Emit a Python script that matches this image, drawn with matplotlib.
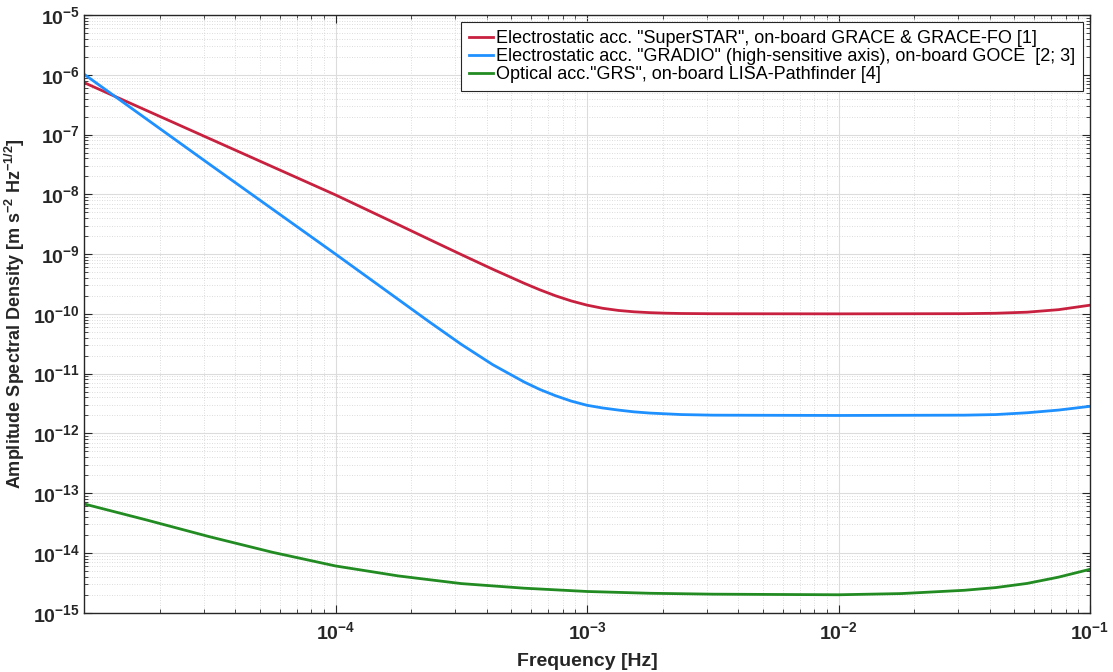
import numpy as np
import matplotlib
matplotlib.use("Agg")
import matplotlib.pyplot as plt
from matplotlib.ticker import LogLocator, FixedLocator, FuncFormatter, NullFormatter

FONT = 'Liberation Sans'
plt.rcParams['font.family'] = [FONT, 'DejaVu Sans']
plt.rcParams['mathtext.fontset'] = 'custom'
plt.rcParams['mathtext.rm'] = FONT + ':bold'
plt.rcParams['mathtext.bf'] = FONT + ':bold'
plt.rcParams['mathtext.it'] = FONT + ':bold'

# log10(frequency [Hz]) and log10(ASD) values
red_logf = [-5.0, -4.75, -4.5, -4.25, -4.0, -3.75, -3.625, -3.5, -3.375, -3.25, -3.1875,
            -3.125, -3.0625, -3.0, -2.9375, -2.875, -2.8125, -2.75, -2.6875, -2.625, -2.5,
            -2.0, -1.5, -1.375, -1.25, -1.125, -1.0]
red_logv = [-6.13, -6.60, -7.07, -7.54, -8.01, -8.508, -8.759, -9.008, -9.253, -9.488, -9.598,
            -9.698, -9.784, -9.854, -9.907, -9.943, -9.966, -9.980, -9.989, -9.994, -9.998,
            -10.0, -9.997, -9.99, -9.972, -9.93, -9.855]

blue_logf = [-5.0, -4.75, -4.5, -4.25, -4.0, -3.875, -3.75, -3.625, -3.5, -3.375,
             -3.25, -3.1875, -3.125, -3.0625, -3.0, -2.9375, -2.875, -2.8125, -2.75, -2.625,
             -2.5, -2.0, -1.5, -1.375, -1.25, -1.125, -1.0]
blue_logv = [-5.99, -6.745, -7.50, -8.25, -9.00, -9.38, -9.76, -10.14, -10.51, -10.85,
             -11.14, -11.265, -11.37, -11.46, -11.53, -11.575, -11.61, -11.64, -11.66, -11.685,
             -11.695, -11.70, -11.695, -11.685, -11.655, -11.61, -11.547]

green_logf = [-5.0, -4.75, -4.5, -4.25, -4.0, -3.75, -3.5, -3.25, -3.0, -2.75,
              -2.5, -2.0, -1.75, -1.5, -1.375, -1.25, -1.125, -1.0]
green_logv = [-13.18, -13.45, -13.73, -13.99, -14.218, -14.385, -14.513, -14.59, -14.645, -14.675,
              -14.69, -14.70, -14.68, -14.625, -14.58, -14.51, -14.405, -14.274]

labels = ['Electrostatic acc. "SuperSTAR", on-board GRACE & GRACE-FO [1]',
          'Electrostatic acc. "GRADIO" (high-sensitive axis), on-board GOCE  [2; 3]',
          'Optical acc."GRS", on-board LISA-Pathfinder [4]']
colors = ['#C8213F', '#1E90FF', '#228B22']

xticks = [1e-4, 1e-3, 1e-2, 1e-1]
yticks = [10.0 ** e for e in range(-15, -4)]

fig = plt.figure(figsize=(11.13, 6.72), dpi=100)
ax = fig.add_axes([84 / 1113, 1 - 612.7 / 672, (1090 - 84) / 1113, (612.7 - 15) / 672])

for lf, lv, c, lab in [(red_logf, red_logv, colors[0], labels[0]),
                       (blue_logf, blue_logv, colors[1], labels[1]),
                       (green_logf, green_logv, colors[2], labels[2])]:
    ax.plot(10.0 ** np.array(lf), 10.0 ** np.array(lv), color=c, lw=2.0, label=lab,
            solid_joinstyle='round')

ax.set_xscale('log')
ax.set_yscale('log')
ax.set_xlim(1e-5, 1e-1)
ax.set_ylim(1e-15, 1e-5)

ax.xaxis.set_major_locator(FixedLocator(xticks))
ax.yaxis.set_major_locator(FixedLocator(yticks))
ax.xaxis.set_minor_locator(LogLocator(base=10, subs=np.arange(2, 10), numticks=20))
ax.yaxis.set_minor_locator(LogLocator(base=10, subs=np.arange(2, 10), numticks=30))
fmt = FuncFormatter(lambda v, p: r'$\mathbf{10^{%d}}$' % int(round(np.log10(v))))
ax.xaxis.set_major_formatter(fmt)
ax.yaxis.set_major_formatter(fmt)
ax.xaxis.set_minor_formatter(NullFormatter())
ax.yaxis.set_minor_formatter(NullFormatter())

ax.tick_params(which='both', direction='in', top=True, right=True, colors='#262626')
ax.tick_params(which='major', length=6, width=0.8, labelsize=14, pad=3)
ax.tick_params(axis='x', which='major', pad=6)
ax.tick_params(which='minor', length=3, width=0.6)

ax.grid(True, which='major', color='#dcdcdc', lw=0.8, ls='-')
ax.grid(True, which='minor', color='#d0d0d0', lw=0.6, ls=(0, (1, 2)))
ax.set_axisbelow(True)
for s in ax.spines.values():
    s.set_color('#262626')
    s.set_linewidth(1.0)

ax.set_xlabel('Frequency [Hz]', fontsize=14, fontweight='bold', color='#262626', labelpad=7)
ax.set_ylabel(r'Amplitude Spectral Density [m s$^{-2}$ Hz$^{-1/2}$]', fontsize=13,
              fontweight='bold', color='#262626', labelpad=4)

leg = ax.legend(loc='upper right', fontsize=13, frameon=True, fancybox=False,
                edgecolor='#262626', framealpha=1, handlelength=1.3, handletextpad=0.15,
                borderpad=0.45, labelspacing=0.05, borderaxespad=0.4)
leg.get_frame().set_linewidth(0.8)

fig.savefig('out.png', dpi=100)
